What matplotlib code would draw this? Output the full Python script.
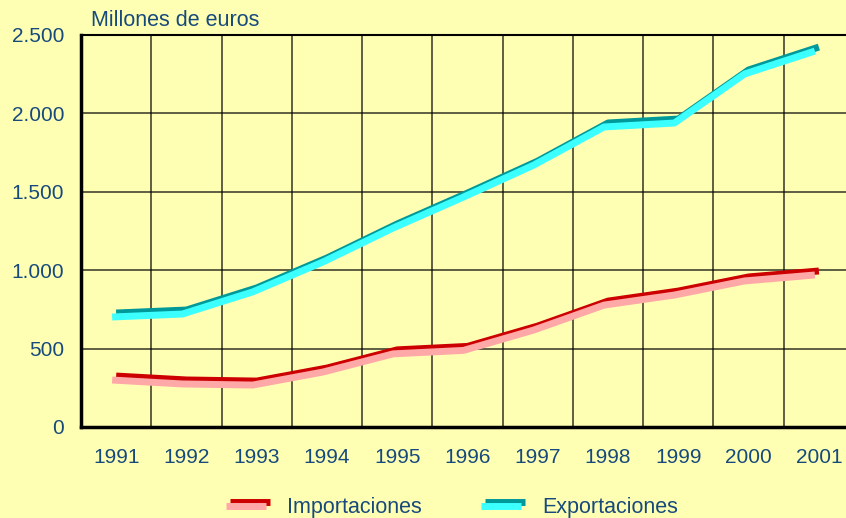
import numpy as np
import matplotlib.pyplot as plt
import matplotlib.transforms as mtransforms
from matplotlib.lines import Line2D

plt.rcParams['font.family'] = ['Liberation Sans', 'DejaVu Sans']

years = ['1991', '1992', '1993', '1994', '1995', '1996',
         '1997', '1998', '1999', '2000', '2001']
importaciones = [325, 300, 293, 376, 492, 514, 644, 803, 867, 957, 995]
exportaciones = [727, 746, 887, 1078, 1295, 1492, 1696, 1939, 1964, 2277, 2423]

BG = '#FFFFB4'
TXT = '#174A7C'

fig = plt.figure(figsize=(8.46, 5.18), dpi=100, facecolor=BG)
ax = fig.add_axes([81/846, 1 - 427/518, 773/846, 392/518], facecolor=BG)

x = np.arange(len(years))
# shadow / front face offset down-left
shift = mtransforms.offset_copy(ax.transData, fig=fig, x=-4, y=-4, units='dots')

ax.plot(x, importaciones, color='#CC0000', lw=5, solid_capstyle='butt', zorder=3)
ax.plot(x, importaciones, color='#FFA8A8', lw=5, solid_capstyle='butt',
        transform=shift, zorder=4)
ax.plot(x, exportaciones, color='#009999', lw=5, solid_capstyle='butt', zorder=3)
ax.plot(x, exportaciones, color='#3CFFFF', lw=5, solid_capstyle='butt',
        transform=shift, zorder=4)

ax.set_xlim(-0.5, len(years) - 0.5)
ax.set_ylim(0, 2500)
ax.set_xticks(x)
ax.set_xticklabels(years)
ax.set_xticks(x[:-1] + 0.5, minor=True)
ax.set_yticks(np.arange(0, 2501, 500))
ax.set_yticklabels(['0', '500', '1.000', '1.500', '2.000', '2.500'])

ax.grid(True, axis='y', which='major', color='black', lw=1.1, alpha=0.8)
ax.grid(True, axis='x', which='minor', color='black', lw=1.1, alpha=0.8)
ax.set_axisbelow(True)

ax.tick_params(axis='both', which='both', length=0, labelsize=15, labelcolor=TXT)
ax.tick_params(axis='x', pad=15)
ax.tick_params(axis='y', pad=12)

for s in ['left', 'bottom']:
    ax.spines[s].set_linewidth(2.5)
ax.spines['top'].set_linewidth(1.5)
ax.spines['right'].set_visible(False)

fig.text(91/846, 1 - 21/518, 'Millones de euros', color=TXT, fontsize=15.5,
         va='center', ha='left')

# legend
def legend_entry(x0, c_back, c_front, label):
    y0 = 1 - 502/518
    fig.add_artist(Line2D([(x0 + 2)/846, (x0 + 42)/846], [y0, y0], color=c_back,
                          lw=5, solid_capstyle='butt'))
    fig.add_artist(Line2D([(x0 - 2)/846, (x0 + 38)/846], [y0 - 4/518, y0 - 4/518],
                          color=c_front, lw=5, solid_capstyle='butt'))
    fig.text((x0 + 59)/846, 1 - 507/518, label, color=TXT, fontsize=15.5,
             va='center', ha='left')

legend_entry(228, '#CC0000', '#FFA8A8', 'Importaciones')
legend_entry(483, '#009999', '#3CFFFF', 'Exportaciones')

fig.savefig('out.png', dpi=100, facecolor=BG)
